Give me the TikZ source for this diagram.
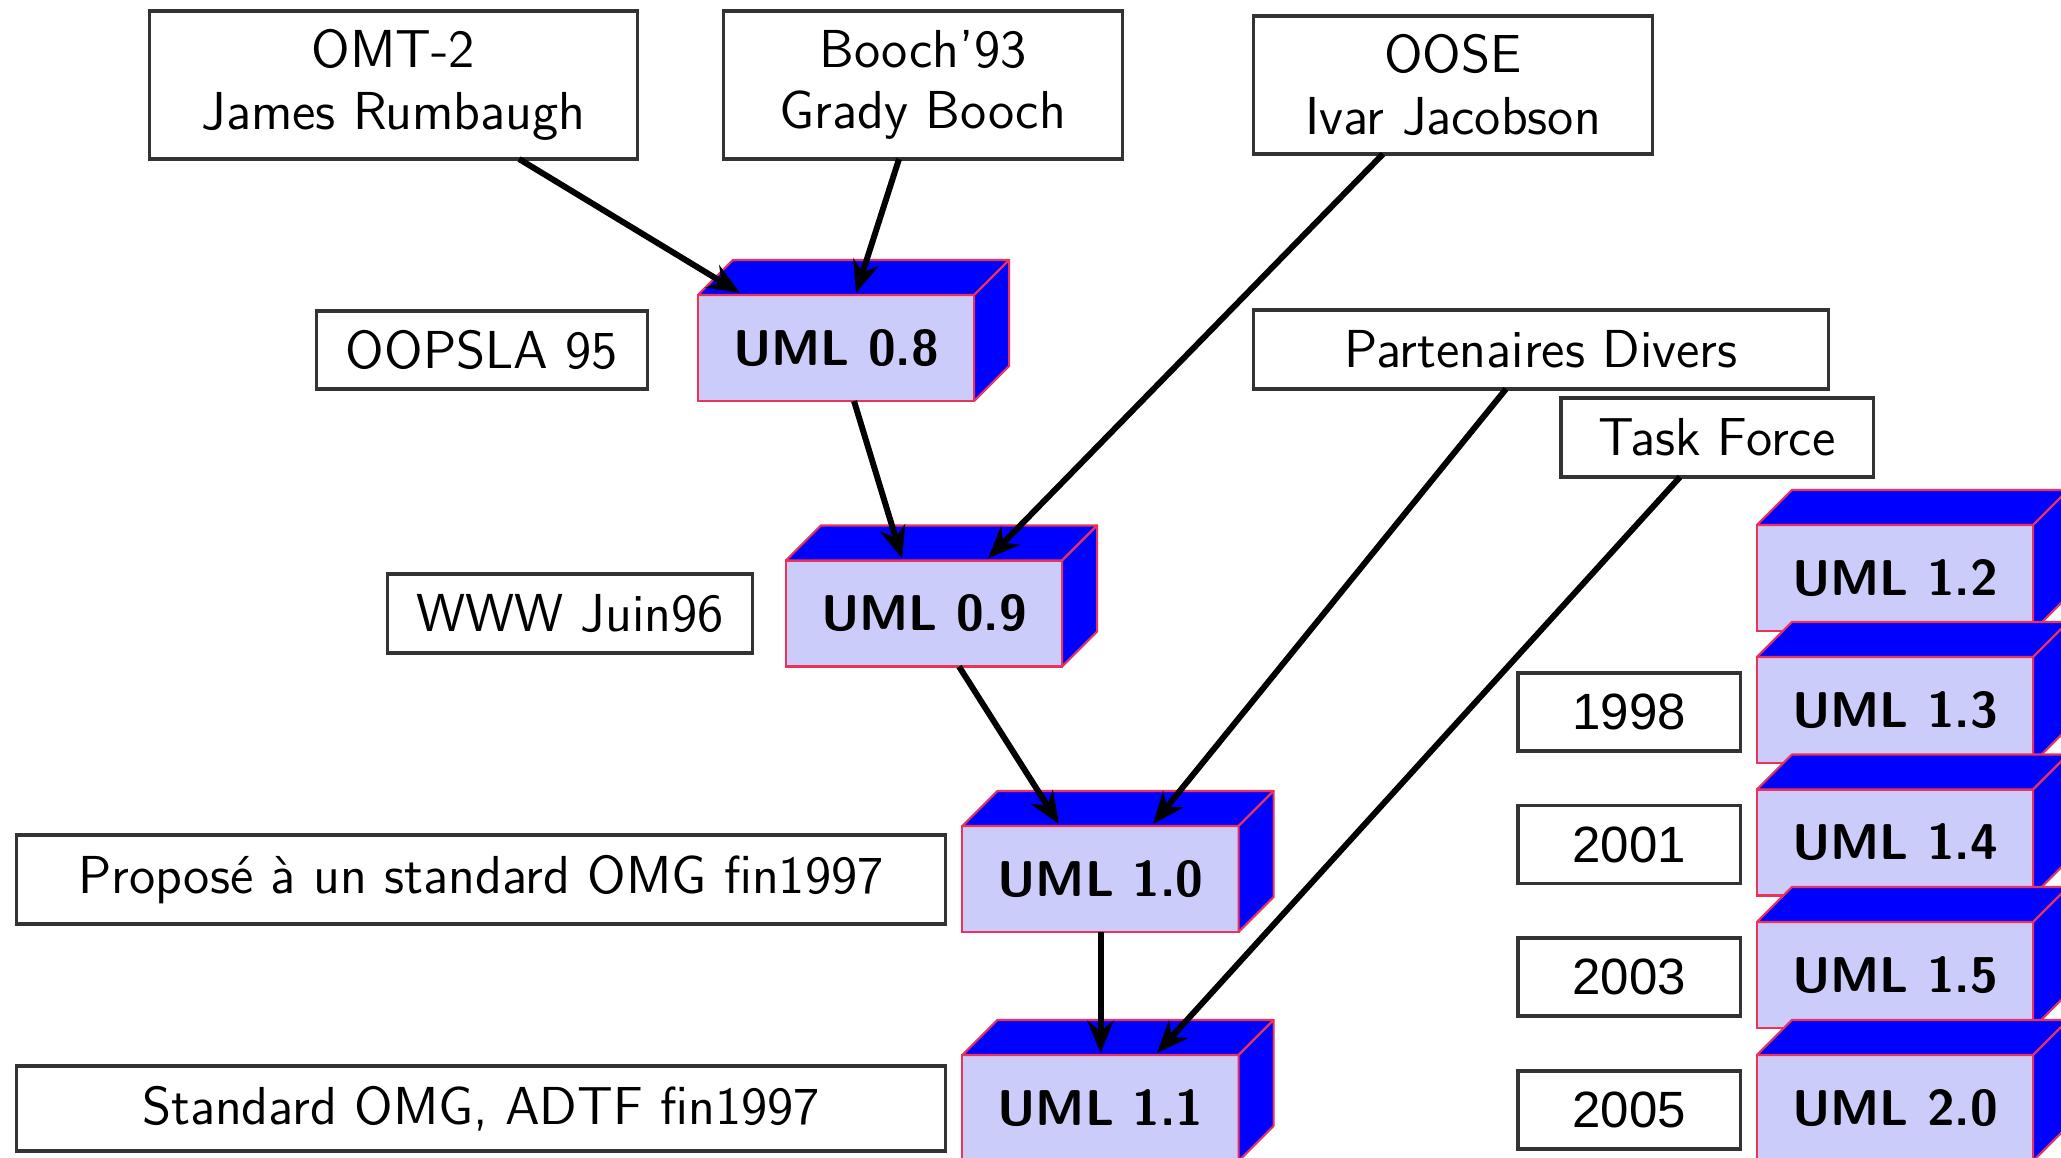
\documentclass[tikz,border=0pt]{standalone}
\usepackage{fontspec}
\newfontfamily\yearfont{Liberation Sans}
\usetikzlibrary{arrows.meta,calc}
\definecolor{umlfront}{RGB}{204,204,250}
\definecolor{umlblue}{RGB}{0,0,255}
\definecolor{umledge}{RGB}{235,50,90}
\newcommand\umlcube[3]{%
  \node[umlbox] (#1) at (#2) {#3};
  \path[face] (#1.north west) -- ($(#1.north west)+(35,-35)$) -- ($(#1.north east)+(35,-35)$) -- (#1.north east) -- cycle;
  \path[face] (#1.north east) -- ($(#1.north east)+(35,-35)$) -- ($(#1.south east)+(35,-35)$) -- (#1.south east) -- cycle;
}
\begin{document}
\begin{tikzpicture}[x=0.01cm,y=-0.01cm,
  plain/.style={draw=black!80, line width=0.9pt, fill=white, inner sep=0pt, outer sep=0pt, align=center,
    font=\fontsize{15.2}{17.5}\selectfont\sffamily},
  yearbox/.style={plain, minimum width=2.22cm, minimum height=0.78cm, font=\fontsize{14.5}{18}\selectfont\yearfont},
  umlbox/.style={draw=umledge, line width=0.6pt, fill=umlfront, inner sep=0pt, outer sep=0pt,
    minimum width=2.76cm, minimum height=1.06cm, font=\fontsize{14.3}{18}\selectfont\sffamily\bfseries},
  face/.style={fill=umlblue, draw=umledge, line width=0.6pt, line join=round},
  arr/.style={-{Stealth[length=0.32cm,width=0.26cm]}, line width=1.7pt, black}
]
\useasboundingbox (0,0) rectangle (2061,1158);

% plain boxes
\node[plain, minimum width=4.87cm, minimum height=1.48cm] (omt) at (393.5,85) {OMT-2\\James Rumbaugh};
\node[plain, minimum width=3.98cm, minimum height=1.48cm] (booch) at (923,85) {Booch'93\\Grady Booch};
\node[plain, minimum width=3.98cm, minimum height=1.38cm] (oose) at (1453,85) {OOSE\\Ivar Jacobson};
\node[plain, minimum width=3.30cm, minimum height=0.78cm] (oopsla) at (482,350) {OOPSLA 95};
\node[plain, minimum width=3.64cm, minimum height=0.79cm] (www) at (570,613.5) {WWW Juin96};
\node[plain, minimum width=5.74cm, minimum height=0.79cm] (part) at (1541,349.5) {Partenaires Divers};
\node[plain, minimum width=3.12cm, minimum height=0.79cm] (task) at (1717,437.5) {Task Force};
\node[plain, minimum width=9.28cm, minimum height=0.89cm] (prop) at (481,879.5) {Proposé à un standard OMG fin1997};
\node[plain, minimum width=9.28cm, minimum height=0.85cm] (std) at (481,1108.5) {Standard OMG, ADTF fin1997};
\node[yearbox] (y98) at (1629,712) {1998};
\node[yearbox] (y01) at (1629,844.5) {2001};
\node[yearbox] (y03) at (1629,977) {2003};
\node[yearbox] (y05) at (1629,1110) {2005};

% UML cubes
\umlcube{u08}{836,348}{UML 0.8}
\umlcube{u09}{924,613.5}{UML 0.9}
\umlcube{u10}{1100.5,879}{UML 1.0}
\umlcube{u11}{1100.5,1108}{UML 1.1}
\umlcube{u12}{1895,578}{UML 1.2}
\umlcube{u13}{1895,710}{UML 1.3}
\umlcube{u14}{1895,842.5}{UML 1.4}
\umlcube{u15}{1895,975}{UML 1.5}
\umlcube{u20}{1895,1108}{UML 2.0}

% arrows
\draw[arr] ([xshift=1.255cm]omt.south) -- ([xshift=-0.96cm,yshift=0.02cm]u08.north);
\draw[arr] ([xshift=-0.24cm]booch.south) -- ([xshift=0.20cm,yshift=0.02cm]u08.north);
\draw[arr] ([xshift=0.18cm]u08.south) -- ([xshift=-0.22cm,yshift=0.02cm]u09.north);
\draw[arr] ([xshift=-0.70cm]oose.south) -- ([xshift=0.64cm,yshift=0.02cm]u09.north);
\draw[arr] ([xshift=0.35cm]u09.south) -- ([xshift=-0.415cm,yshift=0.02cm]u10.north);
\draw[arr] ([xshift=-0.35cm]part.south) -- ([xshift=0.525cm,yshift=0.02cm]u10.north);
\draw[arr] (u10.south) -- ([yshift=0.02cm]u11.north);
\draw[arr] ([xshift=-0.37cm]task.south) -- ([xshift=0.565cm,yshift=0.02cm]u11.north);
\end{tikzpicture}
\end{document}
